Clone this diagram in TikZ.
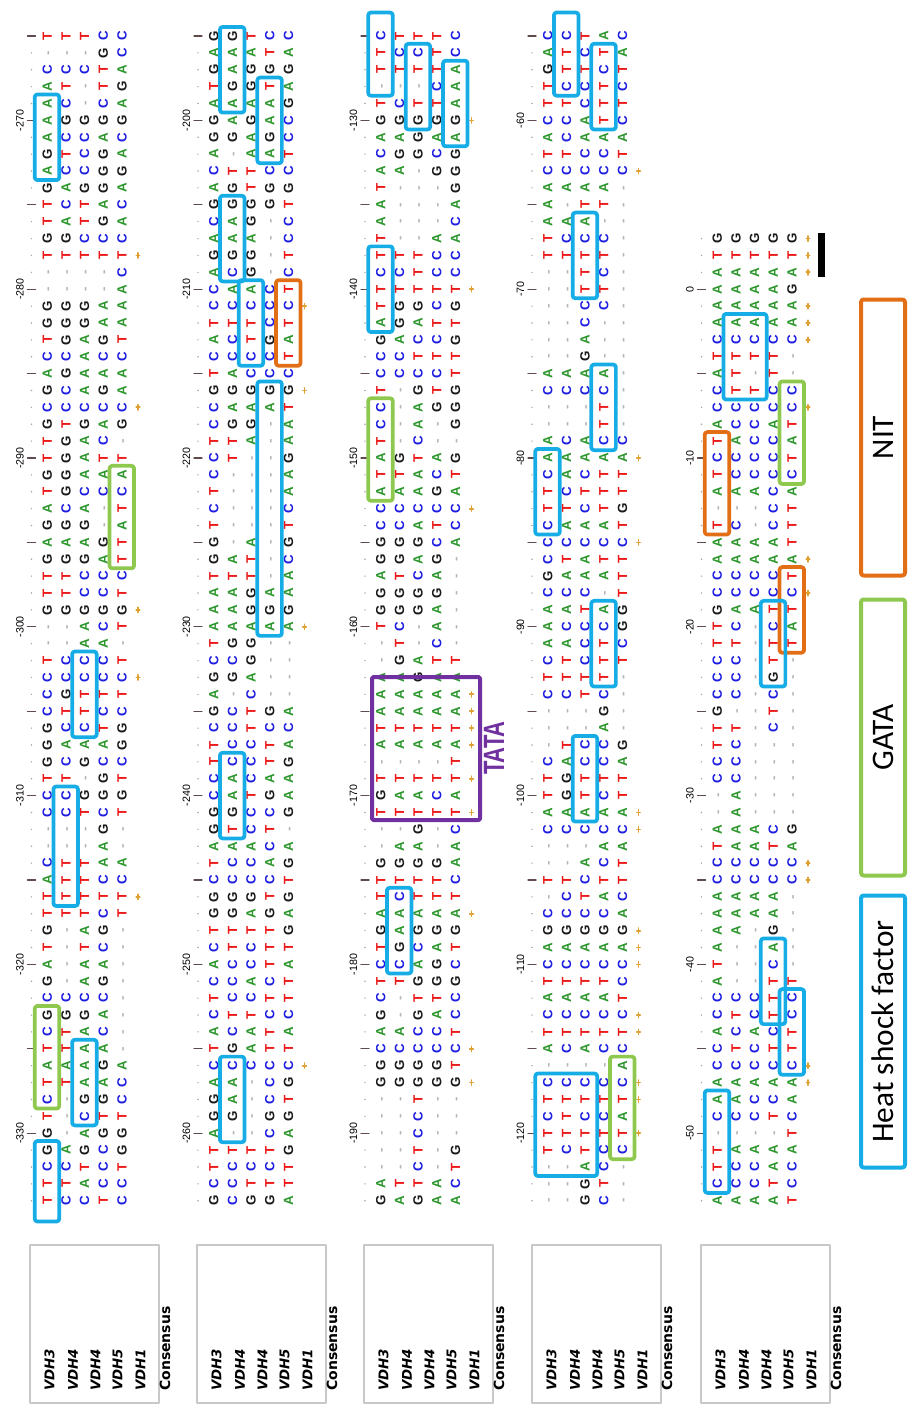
\documentclass[tikz,border=0pt]{standalone}
\usepackage{fontspec}
\setmainfont{Liberation Sans}
\newfontfamily\labelfont{DejaVu Sans}
\newfontfamily\legendfont{Carlito}
\newfontfamily\narrowfont[FakeStretch=0.75]{Liberation Sans}
\usetikzlibrary{fit}

\definecolor{baseA}{RGB}{45,150,45}
\definecolor{baseC}{RGB}{30,30,225}
\definecolor{baseG}{RGB}{25,25,25}
\definecolor{baseT}{RGB}{235,25,25}
\definecolor{gapgray}{RGB}{180,180,180}
\definecolor{stargold}{RGB}{225,160,50}
\definecolor{rulergray}{RGB}{95,75,75}
\definecolor{hsfblue}{RGB}{22,172,230}
\definecolor{gatagreen}{RGB}{142,200,78}
\definecolor{nitorange}{RGB}{226,110,22}
\definecolor{tatapurple}{RGB}{112,48,160}
\definecolor{framegray}{RGB}{200,200,200}

\newcount\alnrow
\newcommand\basecol[1]{\if#1A\textcolor{baseA}{A}\else\if#1C\textcolor{baseC}{C}\else
  \if#1G\textcolor{baseG}{G}\else\if#1T\textcolor{baseT}{T}\else\textcolor{gapgray}{-}\fi\fi\fi\fi}
\newcommand\alncol[5]{%
  \pgfmathsetmacro\alny{36+16.88*\the\alnrow}%
  \node[nt] (\alnname-\the\alnrow-0) at (\alnx,\alny) {\basecol#1};
  \node[nt] (\alnname-\the\alnrow-1) at (\alnx+18.7,\alny) {\basecol#2};
  \node[nt] (\alnname-\the\alnrow-2) at (\alnx+37.4,\alny) {\basecol#3};
  \node[nt] (\alnname-\the\alnrow-3) at (\alnx+56.1,\alny) {\basecol#4};
  \node[nt] (\alnname-\the\alnrow-4) at (\alnx+74.8,\alny) {\basecol#5};
  \if#1#2\if#1#3\if#1#4\if#1#5\if#1-\else
    \draw[consmark] (\alnx+91,\alny-2.6) -- (\alnx+91,\alny+2.6) (\alnx+89.2,\alny) -- (\alnx+92.8,\alny);
  \fi\fi\fi\fi\fi
  \global\advance\alnrow by 1\relax}
\newcommand\alnstop[1]{}
\newcommand\alnkeep[1]{#1}
\newcommand\alnnext[5]{\ifx\relax#1\expandafter\alnstop\else\expandafter\alnkeep\fi{\alncol#1#2#3#4#5\alnnext}}
\newcommand\alnblock[4]{\def\alnname{#1}\def\alnx{#2}\global\alnrow=#3\relax\alnnext#4\relax\relax\relax\relax\relax}

\begin{document}
\begin{tikzpicture}[x=0.75pt,y=-0.75pt,line join=round,line cap=round,
    nt/.style={rotate=90,inner sep=0pt,minimum width=8pt,minimum height=8pt,text height=7.2pt,text depth=0pt,font=\fontsize{10}{10}\selectfont\bfseries},
    consmark/.style={draw=stargold,line width=1.3pt},
    rulertick/.style={draw=rulergray,line width=1pt},
    rulerdot/.style={fill=gray!70},
    posnum/.style={rotate=90,inner sep=0pt,font=\fontsize{8}{8}\selectfont},
    motif/.style={draw=#1,line width=2.8pt,rounded corners=2pt,inner xsep=5pt,inner ysep=2.6pt},
    hsf/.style={motif=hsfblue},
    gata/.style={motif=gatagreen},
    nit/.style={motif=nitorange},
    labelframe/.style={draw=framegray,line width=0.8pt},
    seqlabel/.style={rotate=90,anchor=west,inner sep=0pt,font=\labelfont\fontsize{10}{10}\selectfont\bfseries\itshape},
    conslabel/.style={rotate=90,anchor=west,inner sep=0pt,font=\labelfont\fontsize{10.5}{10.5}\selectfont\bfseries},
    legendbox/.style={draw=#1,line width=3pt,rounded corners=2pt,rotate=90,minimum width=207pt,minimum height=33pt,inner sep=0pt,font=\legendfont\fontsize{23.5}{24}\selectfont}]
\useasboundingbox (0,0) rectangle (908,1405);

\foreach \blk/\cx/\first in {1/47/0,2/213.5/0,3/380.5/0,4/547.5/0,5/717/12}{
  \foreach \i in {\first,...,69}{
    \pgfmathtruncatemacro\pos{-335+70*\blk-\i}
    \pgfmathsetmacro\ry{36+16.88*\i}
    \pgfmathtruncatemacro\five{mod(abs(\pos),5)}
    \pgfmathtruncatemacro\ten{mod(abs(\pos),10)}
    \ifnum\five=0
      \draw[rulertick] (\cx-19.5,\ry) -- (\cx-11.5,\ry);
    \else
      \fill[rulerdot] (\cx-15.5,\ry) circle (0.8);
    \fi
    \ifnum\ten=0
      \node[posnum] (pos\blk-\i) at (\cx-27,\ry) {\pos};
    \fi
  }
}

\alnblock{b1}{47}{0}{
TTTCC ---GC CCCTA AT-TG AC-CA AGGGG ACCAC GTCGA ACCGG GAGGA
TCTAC TATGA GGCCC TTTTT ----C ----A GGGAA GGGAA TGAGT CCACC
AGAAA GCAGA CCCCC GTGAG TGAC- TGATT GGAAA TGCCC ACA-T GGG-A
AAAGT GGGAT TTCCC TTCCT GGGGG --ACT --AA- TCCCT CCCCC CGTTT
CTTCC GCCTG GAAAG GCGCC TT-GT CCGGG CCTCT ---G- ---A- CTTAA
ATTCC TTTTT TTTCT G-AG- T-TC- A-AA- G-AG- CCCC- GGGA- CTAC-
TTAA- AAAGA TTAAC C-GGC T-CTT G-AGG GAGCG CCTCT TTACC TCCTC}
\alnblock{b2}{213.5}{0}{
GGTCC AAATA GAGGG TGGTA AAAAG GAGAC GGAGC A-AAT CTTCC AGTGG
GGGGT CAG-C AAA-C GGG-T ACG-C CAACT CCCCC TTTCT ACTGA CCCCT
TACCC GGGGG CAAAT CGG-A TTA-A CT--G C---A T---A C---C T---T
G-A-G GAT-C TTT-A AAGAA AAGGG AAAAA TGG-- CCG-- GGA-- A-C--
GCTGA CCTCC TCCTA TCCTG CACAA CATGA GGCCG GTCT- AAACA TCCAG
CCCCT GGGTG GGAGA TTTTG CTCTT ACCTA CCACT TCCTT CTTCC ACATA
TGATT CCCCC AA-CG GA-CT GG-GG A--CA TTTTG TCCCT CCTTT GCGGA}
\alnblock{b3}{380.5}{0}{
CTTTC TCCTC TTTTA ---CA TCTTA GGGGG AAGAA CGGCG AA-GG T---G
A---A A---C T--AA TTTCC CCTCC TTTTT TGGCG AGATT GACCG CCTTT
CCCCT T-GTG C-AGG C-A-G T-C-- AGTAG TTACT AAAGA CCCCC CCATC
GGGCA GGAG- ATCA- GGGG- GGGA- TC-A- -T-C- -GATT AAGAA AAAAA
AAAAA TTTTT AAAAA ----T TTTTT GAACA TTTTT --G-C -AA-A GGGGA
TTTTC TCTTT AAAAA GAGGG TGCAT CCAGC TTGGG C-TTC G-GAC AACCT
CCCCC GGGGT GGGGG --T-- --C-- --C-- --T-G --C-T ATTAC GAGAA}
\alnblock{b4}{547.5}{0}{
CCTAC ATCTA GTTCT TCCTC TTCTT CCATC ACAAA TTCCT CCCCC AAAA-
A-TT- AAA-- TCCC- TTTT- --TC- --TT- --CC- --C-- --A-- --G--
AAAA- CCCC- ---T- ---T- ACACC AAAAA CACTT TCTTT TTCTG CAAAT
CCCCC CTATT GAAAT CCC-T AATAG ACCCG AACTC CTCTT TTTT- CCTC-
---G- ---A- -TCCG CACCA TGTTT TGTCT AAAAA CCCCC ---AA --ACT
TTCTT -CTAC CCCCA GGGGG AAAAA CCCCC TTTTC AAAAT CCCCC TTTTT
ACACC ----A CCCCC TTTTT CTCCA TTTTT TCTCC --AC- --GT- --GC-}
\alnblock{b5}{717}{12}{
GGGGG TTTTT AAAAA AAAAG AAAAA AAAAA CCCCC TTTT- AT-T- CTTCC
CCCCC ACCAT TACCA CCCCT TCCCC AAACA ---CT TC-CT AAAAT AAAAA
CCCCT CCCCC GAATT TC-CA TT-TT CC-T- CC-G- CC-C- G--T- TT-C-
TC--- CC--- CC--- -A--- -A--- AAACG TAATA CCCCC CCCCC AAAA-
AAAA- AA-G- A--A- T--C- A--TT CCCTC CTCTC ACACT CTCTT CCCCC
AAAAA AACCA CCCTC ----T TAAAA TCCAC CCCTC AAAAT}

\coordinate (b1-end) at (47,1218);
\coordinate (b3-top) at (380.5,16);
\coordinate (b4-top) at (566.2,16);

\node[hsf,fit=(b1-4-0)(b1-8-0)] (m1a) {};
\node[gata,fit=(b1-26-4)(b1-31-4)] (m1b) {};
\node[hsf,fit=(b1-37-2)(b1-41-2)] (m1c) {};
\node[hsf,fit=(b1-45-1)(b1-51-1)] (m1d) {};
\node[gata,fit=(b1-58-0)(b1-63-0)] (m1e) {};
\node[hsf,fit=(b1-60-2)(b1-64-2)] (m1f) {};
\node[hsf,fit=(b1-66-0)(b1-end)] (m1g) {};

\node[hsf,fit=(b2-0-1)(b2-4-1)] (m2a) {};
\node[hsf,fit=(b2-3-3)(b2-7-3)] (m2b) {};
\node[hsf,fit=(b2-10-1)(b2-14-1)] (m2c) {};
\node[hsf,fit=(b2-15-2)(b2-19-2)] (m2d) {};
\node[nit,fit=(b2-15-4)(b2-19-4)] (m2e) {};
\node[hsf,fit=(b2-21-3)(b2-35-3)] (m2f) {};
\node[hsf,fit=(b2-43-1)(b2-47-1)] (m2g) {};
\node[hsf,fit=(b2-61-1)(b2-65-1)] (m2h) {};

\node[hsf,fit=(b3-top)(b3-3-0)] (m3a) {};
\node[hsf,fit=(b3-1-2)(b3-5-2)] (m3b) {};
\node[hsf,fit=(b3-2-4)(b3-6-4)] (m3c) {};
\node[hsf,fit=(b3-13-0)(b3-17-0)] (m3d) {};
\node[gata,fit=(b3-22-0)(b3-27-0)] (m3e) {};
\node[hsf,fit=(b3-51-1)(b3-55-1)] (m3f) {};
\draw[draw=tatapurple,line width=3pt,rounded corners=1pt] (372,677) rectangle (480,820);
\node[rotate=90,inner sep=0pt,text=tatapurple,font=\narrowfont\bfseries\fontsize{22}{22}\selectfont] (tatatag) at (494,748) {TATA};

\node[hsf,fit=(b4-top)(b4-3-1)] (m4a) {};
\node[hsf,fit=(b4-1-3)(b4-5-3)] (m4b) {};
\node[hsf,fit=(b4-11-2)(b4-15-2)] (m4c) {};
\node[hsf,fit=(b4-20-3)(b4-24-3)] (m4d) {};
\node[hsf,fit=(b4-25-0)(b4-29-0)] (m4e) {};
\node[hsf,fit=(b4-34-3)(b4-38-3)] (m4f) {};
\node[hsf,fit=(b4-42-2)(b4-46-2)] (m4g) {};
\node[hsf,fit=(b4-62-0)(b4-67-2)] (m4h) {};
\node[gata,fit=(b4-61-4)(b4-66-4)] (m4i) {};

\node[hsf,fit=(b5-17-1)(b5-21-2)] (m5a) {};
\node[gata,fit=(b5-21-4)(b5-26-4)] (m5b) {};
\node[nit,fit=(b5-24-0)(b5-29-0)] (m5c) {};
\node[nit,fit=(b5-32-4)(b5-36-4)] (m5d) {};
\node[hsf,fit=(b5-34-3)(b5-38-3)] (m5e) {};
\node[hsf,fit=(b5-54-3)(b5-58-3)] (m5f) {};
\node[hsf,fit=(b5-57-4)(b5-61-4)] (m5g) {};
\node[hsf,fit=(b5-63-0)(b5-68-0)] (m5h) {};
\fill (818,233) rectangle (825,277);

\foreach \lx [count=\k] in {30,197,364,532,701}{
  \draw[labelframe] (\lx,1245) rectangle (\lx+129,1403);
  \node[seqlabel] (lab\k a) at (\lx+19.5,1391) {VDH3};
  \node[seqlabel] (lab\k b) at (\lx+43,1391) {VDH4};
  \node[seqlabel] (lab\k c) at (\lx+65.5,1391) {VDH4};
  \node[seqlabel] (lab\k d) at (\lx+87.5,1391) {VDH5};
  \node[seqlabel] (lab\k e) at (\lx+110.5,1391) {VDH1};
  \node[conslabel] (lab\k f) at (\lx+135,1391) {Consensus};
}

\node[legendbox=nitorange] (nitkey) at (883,437.5) {NIT};
\node[legendbox=gatagreen] (gatakey) at (883,737.5) {GATA};
\node[legendbox=hsfblue,minimum width=204pt] (hsfkey) at (883,1031.5) {Heat shock factor};
\end{tikzpicture}
\end{document}
